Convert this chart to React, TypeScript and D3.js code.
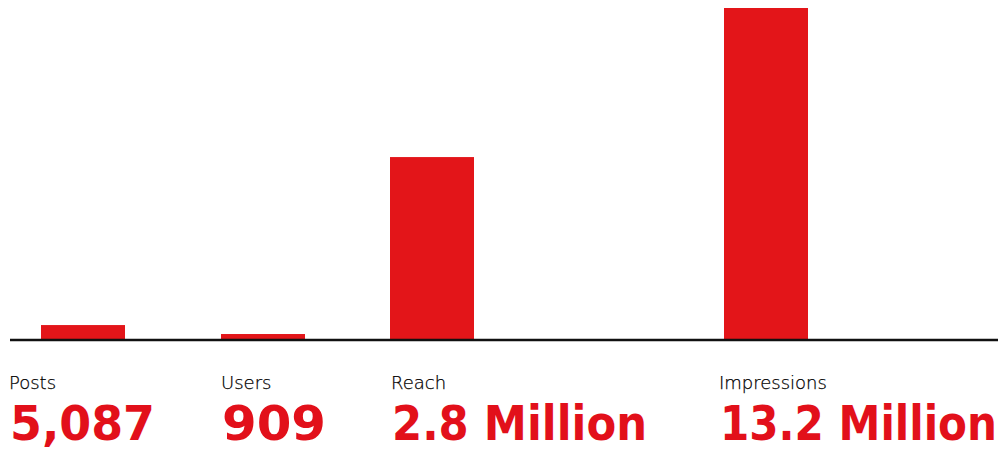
import React from "react";
import * as d3 from "d3";

// ---- data ----
const categories = ["Posts", "Users", "Reach", "Impressions"];
const valueLabels = ["5,087", "909", "2.8 Million", "13.2 Million"];
// relative bar heights as drawn (percent of the tallest bar)
const barLevels = [4.5, 1.8, 55.1, 100];

const W = 998;
const H = 449;
const RED = "#e31519";

export default function App() {
  const baseline = 340;
  const y = d3.scaleLinear().domain([0, 100]).range([baseline, 8]);
  const barX = d3.scaleOrdinal<string, number>().domain(categories).range([41, 221, 390, 724]);
  const labelX = d3.scaleOrdinal<string, number>().domain(categories).range([9, 221, 391, 719]);
  const numWidths = d3.scaleOrdinal<string, number>().domain(categories).range([145, 104, 255, 277]);
  const barW = 84;

  return (
    <svg
      width={W}
      height={H}
      style={{ position: "absolute", left: 0, top: 0, display: "block", background: "#fff" }}
    >
      {categories.map((c, i) => (
        <rect
          key={c}
          x={barX(c)}
          y={y(barLevels[i])}
          width={barW}
          height={baseline - y(barLevels[i])}
          fill={RED}
        />
      ))}
      <line x1={10} x2={W} y1={baseline} y2={baseline} stroke="#111" strokeWidth={2.4} />
      {categories.map((c, i) => (
        <g key={"t" + c}>
          <text
            x={labelX(c)}
            y={389}
            fontFamily="'DejaVu Sans', sans-serif"
            fontWeight={200}
            fontSize={18}
            fill="#000"
            stroke="#000"
            strokeWidth={0.25}
          >
            {c}
          </text>
          <text
            x={labelX(c) + 1}
            y={440}
            fontFamily="'DejaVu Sans', sans-serif"
            fontWeight={700}
            fontSize={48}
            fill="#e2101a"
            textLength={numWidths(c)}
            lengthAdjust="spacingAndGlyphs"
          >
            {valueLabels[i]}
          </text>
        </g>
      ))}
    </svg>
  );
}
